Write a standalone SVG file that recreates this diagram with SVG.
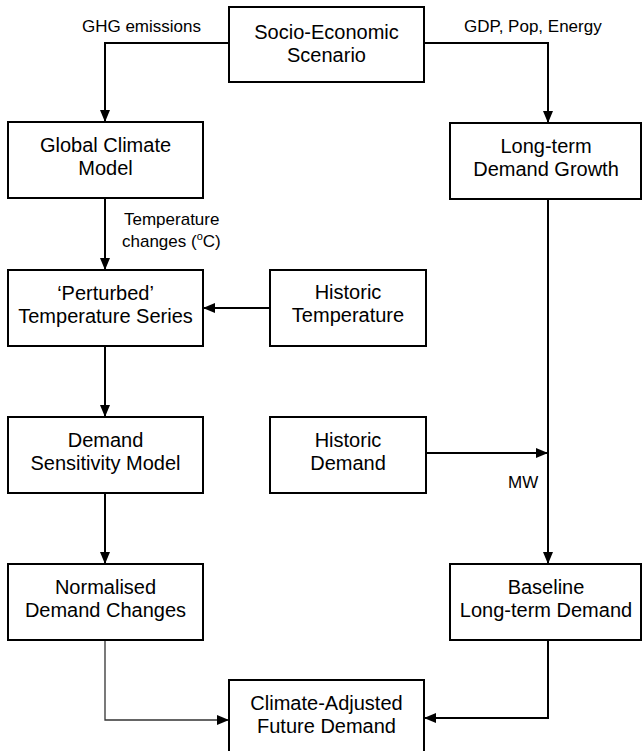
<svg xmlns="http://www.w3.org/2000/svg" width="642" height="751" viewBox="0 0 642 751">
<style>
.box{fill:#fff;stroke:#000;stroke-width:2}
.t{font-family:"Liberation Sans",Arial,sans-serif;font-size:20px;text-anchor:middle;fill:#000}
.l{font-family:"Liberation Sans",Arial,sans-serif;font-size:17px;fill:#000}
.c{fill:none;stroke:#000;stroke-width:2}
.thin{fill:none;stroke:#333;stroke-width:1.3}
</style>
<defs>
<marker id="ah" markerUnits="userSpaceOnUse" markerWidth="12" markerHeight="10" refX="11" refY="5" orient="auto">
<path d="M0,0 L12,5 L0,10 Z" fill="#000"/>
</marker>
</defs>
<rect width="642" height="751" fill="#fff"/>
<g id="connectors">
<path class="c" d="M229,43 H105 V121" marker-end="url(#ah)"/>
<path class="c" d="M424,43 H548 V122" marker-end="url(#ah)"/>
<path class="c" d="M105,198 V269" marker-end="url(#ah)"/>
<path class="c" d="M270,308 H204" marker-end="url(#ah)"/>
<path class="c" d="M105,346 V416" marker-end="url(#ah)"/>
<path class="c" d="M426,453 H547" marker-end="url(#ah)"/>
<path class="c" d="M548,199 V563" marker-end="url(#ah)"/>
<path class="c" d="M105,493 V563" marker-end="url(#ah)"/>
<path class="thin" d="M105,640 V720 H228" marker-end="url(#ah)"/>
<path class="c" d="M548,640 V718 H425" marker-end="url(#ah)"/>
</g>
<g id="labels">
<text class="l" x="201" y="32" text-anchor="end">GHG emissions</text>
<text class="l" x="464" y="32">GDP, Pop, Energy</text>
<text class="l" x="124" y="225">Temperature</text>
<text class="l" x="122" y="247">changes (<tspan font-size="11" dy="-7">o</tspan><tspan dy="7">C)</tspan></text>
<text class="l" x="508" y="488">MW</text>
</g>
<g id="socio"><rect class="box" x="229" y="7" width="195" height="75"/><text class="t" x="326.5" y="39">Socio-Economic</text><text class="t" x="326.5" y="62">Scenario</text></g>
<g id="gcm"><rect class="box" x="8" y="122" width="195" height="76"/><text class="t" x="105.5" y="152">Global Climate</text><text class="t" x="105.5" y="175">Model</text></g>
<g id="ldg"><rect class="box" x="450" y="123" width="191" height="76"/><text class="t" x="546" y="153">Long-term</text><text class="t" x="546" y="176">Demand Growth</text></g>
<g id="perturbed"><rect class="box" x="8" y="270" width="195" height="76"/><text class="t" x="105.5" y="300">‘Perturbed’</text><text class="t" x="105.5" y="323">Temperature Series</text></g>
<g id="htemp"><rect class="box" x="270" y="270" width="156" height="76"/><text class="t" x="348" y="299">Historic</text><text class="t" x="348" y="322">Temperature</text></g>
<g id="dsm"><rect class="box" x="8" y="417" width="195" height="76"/><text class="t" x="105.5" y="447">Demand</text><text class="t" x="105.5" y="470">Sensitivity Model</text></g>
<g id="hdem"><rect class="box" x="270" y="417" width="156" height="76"/><text class="t" x="348" y="447">Historic</text><text class="t" x="348" y="470">Demand</text></g>
<g id="norm"><rect class="box" x="8" y="564" width="195" height="76"/><text class="t" x="105.5" y="594">Normalised</text><text class="t" x="105.5" y="617">Demand Changes</text></g>
<g id="base"><rect class="box" x="450" y="564" width="191" height="76"/><text class="t" x="546" y="594">Baseline</text><text class="t" x="546" y="617">Long-term Demand</text></g>
<g id="climate"><rect class="box" x="229" y="680" width="195" height="76"/><text class="t" x="326.5" y="710">Climate-Adjusted</text><text class="t" x="326.5" y="733">Future Demand</text></g>
</svg>
